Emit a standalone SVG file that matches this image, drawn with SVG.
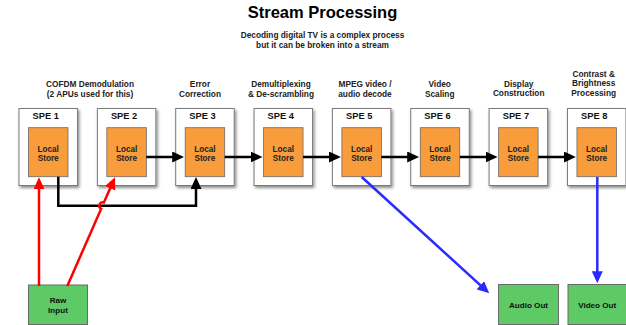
<svg xmlns="http://www.w3.org/2000/svg" width="626" height="325" viewBox="0 0 626 325">
  <style>
    text { font-family: "Liberation Sans", Arial, Helvetica, sans-serif; font-weight: bold; text-anchor: middle; }
    .title { font-size: 16.5px; fill: #000; }
    .sub { font-size: 8.3px; fill: #222; }
    .stage { font-size: 8.3px; fill: #222; }
    .spe-label { font-size: 9.3px; fill: #111; }
    .ls-label { font-size: 8.2px; fill: #222; }
    .io-label { font-size: 8.1px; fill: #111; }
    .spe { fill: #fff; stroke: #7a7a7a; stroke-width: 1; filter: url(#shadow); }
    .store { fill: #f89c3c; stroke: #6a6a6a; stroke-width: 0.8; }
    .io { fill: #5dca66; stroke: #6a6a6a; stroke-width: 1; }
    .flow { fill: none; stroke: #000; stroke-width: 2.5; marker-end: url(#head-black); }
    .in { fill: none; stroke: #ff0000; stroke-width: 2.5; marker-end: url(#head-red); }
    .out { fill: none; stroke: #2a2aff; stroke-width: 2.5; marker-end: url(#head-blue); }
  </style>
  <defs>
    <filter id="shadow" x="-20%" y="-20%" width="140%" height="140%">
      <feDropShadow dx="1.5" dy="2" stdDeviation="1.4" flood-color="#000" flood-opacity="0.45"/>
    </filter>
    <marker id="head-black" markerUnits="userSpaceOnUse" markerWidth="12" markerHeight="11" refX="8" refY="5.5" orient="auto">
      <path d="M0,0 L12,5.5 L0,11 z" fill="#000"/>
    </marker>
    <marker id="head-red" markerUnits="userSpaceOnUse" markerWidth="12" markerHeight="11" refX="8" refY="5.5" orient="auto">
      <path d="M0,0 L12,5.5 L0,11 z" fill="#ff0000"/>
    </marker>
    <marker id="head-blue" markerUnits="userSpaceOnUse" markerWidth="12" markerHeight="11" refX="8" refY="5.5" orient="auto">
      <path d="M0,0 L12,5.5 L0,11 z" fill="#2a2aff"/>
    </marker>
  </defs>

  <rect width="626" height="325" fill="#fff"/>

  <!-- heading -->
  <g id="heading">
    <text class="title" x="322.5" y="18">Stream Processing</text>
    <text class="sub" x="322.5" y="38">Decoding digital TV is a complex process</text>
    <text class="sub" x="322.5" y="47.5">but it can be broken into a stream</text>
  </g>

  <!-- stage captions -->
  <g id="captions">
    <text class="stage" x="90" y="87">COFDM Demodulation</text>
    <text class="stage" x="90" y="96.5">(2 APUs used for this)</text>
    <text class="stage" x="200" y="87">Error</text>
    <text class="stage" x="200" y="96.5">Correction</text>
    <text class="stage" x="281" y="87">Demultiplexing</text>
    <text class="stage" x="281" y="96.5">&amp; De-scrambling</text>
    <text class="stage" x="365" y="87">MPEG video /</text>
    <text class="stage" x="365" y="96.5">audio decode</text>
    <text class="stage" x="439.7" y="87">Video</text>
    <text class="stage" x="439.7" y="96.5">Scaling</text>
    <text class="stage" x="518.7" y="86.5">Display</text>
    <text class="stage" x="518.7" y="96">Construction</text>
    <text class="stage" x="593.7" y="76.8">Contrast &amp;</text>
    <text class="stage" x="593.7" y="86.3">Brightness</text>
    <text class="stage" x="593.7" y="95.8">Processing</text>
  </g>

  <!-- SPE units -->
  <g id="spe1">
    <rect class="spe" x="19" y="108.5" width="58.5" height="77"/>
    <text class="spe-label" x="45.8" y="119">SPE 1</text>
    <rect class="store" x="28.5" y="127.7" width="39.5" height="49"/>
    <text class="ls-label" x="48.2" y="151.8">Local</text>
    <text class="ls-label" x="48.2" y="161">Store</text>
  </g>
  <g id="spe2">
    <rect class="spe" x="97.35" y="108.5" width="58.5" height="77"/>
    <text class="spe-label" x="124.1" y="119">SPE 2</text>
    <rect class="store" x="106.85" y="127.7" width="39.5" height="49"/>
    <text class="ls-label" x="126.6" y="151.8">Local</text>
    <text class="ls-label" x="126.6" y="161">Store</text>
  </g>
  <g id="spe3">
    <rect class="spe" x="175.7" y="108.5" width="58.5" height="77"/>
    <text class="spe-label" x="202.5" y="119">SPE 3</text>
    <rect class="store" x="185.2" y="127.7" width="39.5" height="49"/>
    <text class="ls-label" x="204.9" y="151.8">Local</text>
    <text class="ls-label" x="204.9" y="161">Store</text>
  </g>
  <g id="spe4">
    <rect class="spe" x="254.05" y="108.5" width="58.5" height="77"/>
    <text class="spe-label" x="280.8" y="119">SPE 4</text>
    <rect class="store" x="263.55" y="127.7" width="39.5" height="49"/>
    <text class="ls-label" x="283.3" y="151.8">Local</text>
    <text class="ls-label" x="283.3" y="161">Store</text>
  </g>
  <g id="spe5">
    <rect class="spe" x="332.4" y="108.5" width="58.5" height="77"/>
    <text class="spe-label" x="359.2" y="119">SPE 5</text>
    <rect class="store" x="341.9" y="127.7" width="39.5" height="49"/>
    <text class="ls-label" x="361.6" y="151.8">Local</text>
    <text class="ls-label" x="361.6" y="161">Store</text>
  </g>
  <g id="spe6">
    <rect class="spe" x="410.75" y="108.5" width="58.5" height="77"/>
    <text class="spe-label" x="437.5" y="119">SPE 6</text>
    <rect class="store" x="420.25" y="127.7" width="39.5" height="49"/>
    <text class="ls-label" x="440" y="151.8">Local</text>
    <text class="ls-label" x="440" y="161">Store</text>
  </g>
  <g id="spe7">
    <rect class="spe" x="489.1" y="108.5" width="58.5" height="77"/>
    <text class="spe-label" x="515.9" y="119">SPE 7</text>
    <rect class="store" x="498.6" y="127.7" width="39.5" height="49"/>
    <text class="ls-label" x="518.3" y="151.8">Local</text>
    <text class="ls-label" x="518.3" y="161">Store</text>
  </g>
  <g id="spe8">
    <rect class="spe" x="567.45" y="108.5" width="58.5" height="77"/>
    <text class="spe-label" x="594.2" y="119">SPE 8</text>
    <rect class="store" x="576.95" y="127.7" width="39.5" height="49"/>
    <text class="ls-label" x="596.7" y="151.8">Local</text>
    <text class="ls-label" x="596.7" y="161">Store</text>
  </g>

  <!-- inputs and outputs -->
  <g id="raw-input">
    <rect class="io" x="28.5" y="285" width="59" height="39.5"/>
    <text class="io-label" x="58" y="303">Raw</text>
    <text class="io-label" x="58" y="313">Input</text>
  </g>
  <g id="audio-out">
    <rect class="io" x="498.5" y="284.5" width="60" height="40"/>
    <text class="io-label" x="528.5" y="307.5">Audio Out</text>
  </g>
  <g id="video-out">
    <rect class="io" x="568" y="284.5" width="58.5" height="40"/>
    <text class="io-label" x="597.2" y="307.5">Video Out</text>
  </g>

  <!-- connectors -->
  <g id="connectors">
    <!-- stage to stage -->
    <path class="flow" d="M146.35,157 H180.2"/>
    <path class="flow" d="M224.7,157 H258.5"/>
    <path class="flow" d="M303.05,157 H336.9"/>
    <path class="flow" d="M381.4,157 H415.2"/>
    <path class="flow" d="M459.75,157 H493.6"/>
    <path class="flow" d="M538.1,157 H571.9"/>
    <!-- SPE 1 result routed under SPE 2 into SPE 3 -->
    <path class="flow" d="M58.3,176.7 V205.7 H196 V181"/>
    <!-- raw input feeds -->
    <path class="in" d="M39,286 V181.3"/>
    <path class="in" d="M67.3,286 L101.1,208.9 A3.5,3.5 0 0 1 103.9,202.5 L113.4,181"/>
    <!-- decoded outputs -->
    <path class="out" d="M361.7,177 L486.3,290.6"/>
    <path class="out" d="M597.3,177 V279.3"/>
  </g>
</svg>
